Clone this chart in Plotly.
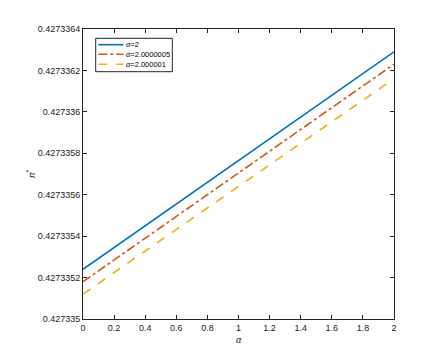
import plotly.graph_objects as go

x_vals = [0, 2]
pi_a2 = [0.42733524, 0.42733629]
pi_a2_0000005 = [0.42733518, 0.42733623]
pi_a2_000001 = [0.42733512, 0.42733616]

series_names = ["<i>α</i>=2", "<i>α</i>=2.0000005", "<i>α</i>=2.000001"]
colors = ["#0072BD", "#D95319", "#EDB120"]
dashes = ["solid", "dashdot", "dash"]

y_tickvals = [0.427335, 0.4273352, 0.4273354, 0.4273356, 0.4273358, 0.427336, 0.4273362, 0.4273364]
y_ticktext = ["0.427335", "0.4273352", "0.4273354", "0.4273356", "0.4273358", "0.427336", "0.4273362", "0.4273364"]
x_tickvals = [0, 0.2, 0.4, 0.6, 0.8, 1, 1.2, 1.4, 1.6, 1.8, 2]
x_ticktext = ["0", "0.2", "0.4", "0.6", "0.8", "1", "1.2", "1.4", "1.6", "1.8", "2"]

fig = go.Figure()
for ys, name, c, d in zip([pi_a2, pi_a2_0000005, pi_a2_000001], series_names, colors, dashes):
    fig.add_trace(go.Scatter(x=x_vals, y=ys, mode="lines", name=name, showlegend=False,
                             line=dict(color=c, width=1.6, dash=d)))

# compact MATLAB-style legend built from shapes + annotations (paper coords)
fig.add_shape(type="rect", xref="paper", yref="paper", x0=0.0408, x1=0.2872, y0=0.8528, y1=0.9679,
              line=dict(color="#262626", width=1), fillcolor="white", layer="above")
row_y = [0.9459, 0.9128, 0.8783]
for ry, name, c, d in zip(row_y, series_names, colors, dashes):
    fig.add_shape(type="line", xref="paper", yref="paper", x0=0.0493, x1=0.1297, y0=ry, y1=ry,
                  line=dict(color=c, width=1.6, dash=d), layer="above")
    fig.add_annotation(xref="paper", yref="paper", x=0.1328, y=ry, text=name, showarrow=False,
                       xanchor="left", yanchor="middle", font=dict(size=7.5, color="#000000"))

axis_common = dict(showgrid=False, zeroline=False, showline=True, linecolor="#262626",
                   linewidth=1, mirror="ticks", ticks="inside", ticklen=4, automargin=False,
                   tickcolor="#262626", tickfont=dict(size=9, color="#1a1a1a"))

fig.update_layout(
    width=442, height=348,
    margin=dict(l=75, r=56, t=21, b=37),
    paper_bgcolor="white", plot_bgcolor="white",
    font=dict(family="Liberation Sans, Arial, sans-serif", size=9, color="#1a1a1a"),
    xaxis=dict(range=[0, 2], tickvals=x_tickvals, ticktext=x_ticktext,
               title=dict(text="<i>α</i>", standoff=4, font=dict(size=9)), **axis_common),
    yaxis=dict(range=[0.427335, 0.4273364], tickvals=y_tickvals, ticktext=y_ticktext,
               title=dict(text="<i>π</i><sup>*</sup>", standoff=0, font=dict(size=9)), **axis_common),
    showlegend=False,
)

fig.write_html("out.html")
